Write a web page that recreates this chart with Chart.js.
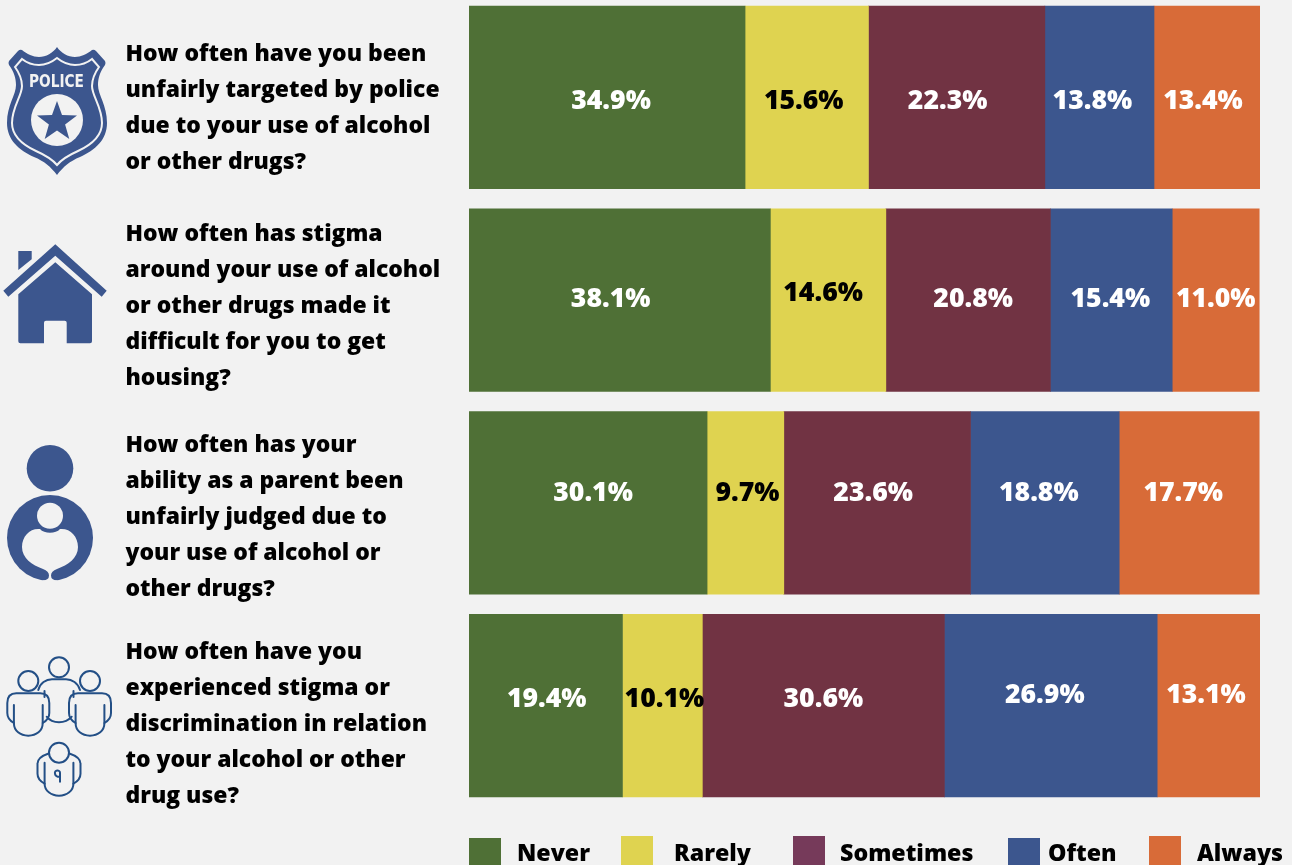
<!DOCTYPE html>
<html>
<head>
<meta charset="utf-8">
<title>Stigma survey</title>
<script src="https://cdn.jsdelivr.net/npm/chart.js@4/dist/chart.umd.min.js"></script>
<style>
    html, body { margin: 0; padding: 0; background: #f2f2f2; overflow: hidden; }
    #page { position: relative; width: 1292px; height: 865px; overflow: hidden; }
    /* first bar starts just under the page top, so the canvas sits slightly above it */
    #surveyChart { position: absolute; left: 0; top: -4px; }
    #icons { position: absolute; left: 0; top: 0; }
</style>
</head>
<body>
<div id="page">
    <canvas id="surveyChart" width="1292" height="869"></canvas>

    <svg id="icons" width="1292" height="865" viewBox="0 0 1292 865">
        <!-- police badge -->
        <path fill="#3c568e" d="M57 47 C61 53 68 57 75 57 C81 57 87 54 92 50 Q94 49 96 51 L105 61 Q106 63 105 65 C100 72 98 78 98 85 C98 95 107 105 107 123 C107 140 95 150 80 157 C70 161 63 167 57 175 C51 167 44 161 34 157 C19 150 7 140 7 123 C7 105 16 95 16 85 C16 78 14 72 9 65 Q8 63 9 61 L18 51 Q20 49 22 50 C27 54 33 57 39 57 C46 57 53 53 57 47Z"/>
        <path fill="none" stroke="#f2f2f2" stroke-width="2" d="M57 58 C62 62 68 65 75 65 C81 65 87 63 92 59 L99 67 C94 74 92 80 92 86 C92 96 102 107 102 123 C102 136 91 145 78 151 C69 155 62 159 57 165 C52 159 45 155 36 151 C23 145 12 136 12 123 C12 107 22 96 22 86 C22 80 20 74 15 67 L22 59 C27 63 33 65 39 65 C46 65 52 62 57 58Z"/>
        <text x="29" y="87" font-family="'DejaVu Sans'" font-weight="bold" font-size="17" fill="#f2f2f2" textLength="55" lengthAdjust="spacingAndGlyphs">POLICE</text>
        <circle cx="57" cy="120" r="26" fill="#f2f2f2"/>
        <polygon fill="#3c568e" points="57,101 62,115.1 77,115.5 65.1,124.6 69.3,139 57,130.5 44.7,139 48.9,124.6 37,115.5 52,115.1"/>

        <!-- house -->
        <path fill="#3c568e" d="M55.3 244.3 L106.7 290.7 L101.7 296.7 L55.3 255.7 L8.3 296.7 L3.3 290.7Z"/>
        <path fill="#3c568e" d="M18.3 251 L31.7 251 L31.7 259.3 L18.3 270Z"/>
        <path fill="#3c568e" d="M55.3 262.3 L92 294.3 L92 341.3 Q92 343.3 90 343.3 L66.7 343.3 L66.7 322.7 Q66.7 320.7 64.7 320.7 L46 320.7 Q44 320.7 44 322.7 L44 343.3 L20.3 343.3 Q18.3 343.3 18.3 341.3 L18.3 294.3Z"/>

        <!-- parent holding a child -->
        <circle cx="50" cy="468.3" r="23.3" fill="#3c568e"/>
        <circle cx="50" cy="538" r="43" fill="#3c568e"/>
        <path fill="#f2f2f2" d="M40 529 C30 528 22 536 22 547 C22 558 32 565 43 569 Q49 571 49 575.5 Q49 580 43 580.5 L43 584 L57 584 L57 580.5 Q51 580 51 575.5 Q51 571 57 569 C68 565 78 558 78 547 C78 536 70 528 60 529 C56 534 44 534 40 529Z"/>
        <circle cx="50" cy="515.7" r="13" fill="#f2f2f2"/>

        <!-- group of people -->
        <g fill="none" stroke="#234f86" stroke-width="2" stroke-linecap="round" stroke-linejoin="round">
            <circle cx="59" cy="667.3" r="10"/>
            <path d="M38.3 690 C40 683 46 679.3 52 679.3 L66 679.3 C72 679.3 78 683 80 690"/>
            <path d="M46.7 716.7 C50 721 55 722.3 59 722.3 C63 722.3 68 721 71.7 716.7"/>
            <path d="M44.5 691 L44.5 697 M73.5 691 L73.5 697"/>
            <g transform="translate(28.3 681)">
                <circle cx="0" cy="0" r="10"/>
                <path d="M-14.4 24 L-14.4 42 C-14.4 50 -8 54.7 0 54.7 C8 54.7 14.4 50 14.4 42 L14.4 24"/>
                <path d="M-14.4 42 C-18 40 -21 37 -21 32 L-21 22 C-21 16 -18 12.3 -12 12.3 L12 12.3 C18 12.3 21 16 21 22 L21 32 C21 37 18 40 14.4 42"/>
            </g>
            <g transform="translate(90 681)">
                <circle cx="0" cy="0" r="10"/>
                <path d="M-14.4 24 L-14.4 42 C-14.4 50 -8 54.7 0 54.7 C8 54.7 14.4 50 14.4 42 L14.4 24"/>
                <path d="M-14.4 42 C-18 40 -21 37 -21 32 L-21 22 C-21 16 -18 12.3 -12 12.3 L12 12.3 C18 12.3 21 16 21 22 L21 32 C21 37 18 40 14.4 42"/>
            </g>
            <g transform="translate(59 752.7)">
                <circle cx="0" cy="0" r="10"/>
                <path d="M-14.4 10 L-14.4 31 C-14.4 38 -8 43 0 43 C8 43 14.4 38 14.4 31 L14.4 10"/>
                <path d="M-14.4 31 C-18 29 -21.5 26 -21.5 21 L-21.5 11 C-21.5 6 -17 3 -11 1 M14.4 31 C18 29 21.5 26 21.5 21 L21.5 11 C21.5 6 17 3 11 1"/>
                <path d="M1 29 L1 20 C1 17 -5 17 -4 21 C-3.5 25 1 24 1 24"/>
            </g>
        </g>
    </svg>
</div>

<script>
// Constants
const FONT_FAMILY = "'Open Sans', sans-serif";

const QUESTIONS = [
    ["How often have you been", "unfairly targeted by police", "due to your use of alcohol", "or other drugs?"],
    ["How often has stigma", "around your use of alcohol", "or other drugs made it", "difficult for you to get", "housing?"],
    ["How often has your", "ability as a parent been", "unfairly judged due to", "your use of alcohol or", "other drugs?"],
    ["How often have you", "experienced stigma or", "discrimination in relation", "to your alcohol or other", "drug use?"]
];
const SERIES_NAMES = ["Never", "Rarely", "Sometimes", "Often", "Always"];

const NEVER = [34.9, 38.1, 30.1, 19.4];
const RARELY = [15.6, 14.6, 9.7, 10.1];
const SOMETIMES = [22.3, 20.8, 23.6, 30.6];
const OFTEN = [13.8, 15.4, 18.8, 26.9];
const ALWAYS = [13.4, 11.0, 17.7, 13.1];

const BAR_COLORS = ["#4f7036", "#dfd350", "#713343", "#3c568e", "#d86b38"];
const LABEL_COLORS = ["#ffffff", "#000000", "#ffffff", "#ffffff", "#ffffff"];
const LEGEND_COLORS = ["#4f7036", "#dfd350", "#763a5a", "#3c568e", "#d86b38"];

// ======================
// Layout of the hand placed text
// ======================

// first baseline of each question, relative to its bar centre
const QUESTION_OFFSETS = [-36.5, -59, -51, -47];
const QUESTION_LINE_HEIGHT = 36;

// label nudges per row, one [dx, dy] per series
const LABEL_NUDGES = [
    [[4, 4], [-3, 4], [-9, 4], [-7, 4], [-4, 4]],
    [[-9, -1], [-5, -7], [5, -1], [-1, -1], [0, -1]],
    [[5, -9], [2, -9], [-4, -9], [-6, -9], [-6, -9]],
    [[1, -6], [2, -6], [0, -6], [-6, -10], [-3, -10]]
];

const LEGEND_BOXES = [
    { x: 469, y: 838 },
    { x: 621, y: 836 },
    { x: 793, y: 836 },
    { x: 1008, y: 838 },
    { x: 1149, y: 836 }
];
const LEGEND_TEXT_X = [517, 674, 840, 1048, 1197];

// ======================
// Plugins
// ======================

const questionsPlugin = {
    id: "questions",
    afterDraw(chart) {
        const { ctx, scales } = chart;
        ctx.save();
        ctx.fillStyle = "#000000";
        ctx.font = `800 22.9px ${FONT_FAMILY}`;
        ctx.textAlign = "left";
        ctx.textBaseline = "alphabetic";
        QUESTIONS.forEach((lines, row) => {
            const top = scales.y.getPixelForValue(row) + QUESTION_OFFSETS[row];
            lines.forEach((line, i) => {
                ctx.fillText(line, 125.5, top + i * QUESTION_LINE_HEIGHT);
            });
        });
        ctx.restore();
    }
};

const barLabelsPlugin = {
    id: "barLabels",
    afterDatasetsDraw(chart) {
        const { ctx } = chart;
        ctx.save();
        ctx.font = `800 26.6px ${FONT_FAMILY}`;
        ctx.textAlign = "center";
        ctx.textBaseline = "middle";
        chart.data.datasets.forEach((dataset, seriesIndex) => {
            chart.getDatasetMeta(seriesIndex).data.forEach((bar, row) => {
                const [dx, dy] = LABEL_NUDGES[row][seriesIndex];
                const center = bar.getCenterPoint();
                ctx.fillStyle = LABEL_COLORS[seriesIndex];
                ctx.fillText(`${dataset.data[row].toFixed(1)}%`, center.x + dx, center.y + dy);
            });
        });
        ctx.restore();
    }
};

const legendRowPlugin = {
    id: "legendRow",
    afterDraw(chart) {
        const { ctx } = chart;
        // legend coordinates are page based, the canvas is shifted up by 4px
        ctx.save();
        ctx.translate(0, 4);
        ctx.font = `800 23.2px ${FONT_FAMILY}`;
        ctx.textAlign = "left";
        ctx.textBaseline = "alphabetic";
        SERIES_NAMES.forEach((name, i) => {
            ctx.fillStyle = LEGEND_COLORS[i];
            ctx.fillRect(LEGEND_BOXES[i].x, LEGEND_BOXES[i].y, 32, 32);
            ctx.fillStyle = "#000000";
            ctx.fillText(name, LEGEND_TEXT_X[i], 861);
        });
        ctx.restore();
    }
};

// ======================
// Chart
// ======================

const seriesValues = [NEVER, RARELY, SOMETIMES, OFTEN, ALWAYS];

new Chart(document.getElementById("surveyChart"), {
    type: "bar",
    data: {
        labels: QUESTIONS.map(lines => lines.join(" ")),
        datasets: SERIES_NAMES.map((name, i) => ({
            label: name,
            data: seriesValues[i],
            backgroundColor: BAR_COLORS[i],
            borderWidth: 0,
            barThickness: 182.4
        }))
    },
    options: {
        indexAxis: "y",
        responsive: false,
        animation: false,
        layout: { padding: { left: 469, right: 32, top: 0, bottom: 58 } },
        plugins: {
            legend: { display: false },
            title: { display: false },
            tooltip: { enabled: false }
        },
        scales: {
            x: { stacked: true, min: 0, max: 100, display: false },
            y: { stacked: true, display: false }
        }
    },
    plugins: [barLabelsPlugin, questionsPlugin, legendRowPlugin]
});
</script>
</body>
</html>
